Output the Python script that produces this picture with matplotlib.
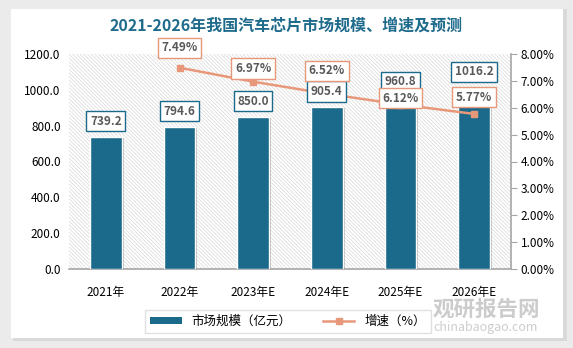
import matplotlib.pyplot as plt
from matplotlib.patches import Rectangle
from matplotlib.lines import Line2D
import matplotlib.patheffects as pe

plt.rcParams['font.family'] = ['Noto Sans CJK SC', 'DejaVu Sans']
plt.rcParams['hatch.linewidth'] = 0.45
plt.rcParams['hatch.color'] = '#d4d4d4'

# market size (100 million yuan) and growth rate (%)
years = ['2021年', '2022年', '2023年E', '2024年E', '2025年E', '2026年E']
market_size = [739.2, 794.6, 850.0, 905.4, 960.8, 1016.2]
growth_years = ['2022年', '2023年E', '2024年E', '2025年E', '2026年E']
growth = [7.49, 6.97, 6.52, 6.12, 5.77]

bar_color = '#1b6a8c'
line_color = '#e8987a'
text_gray = '#595959'

fig = plt.figure(figsize=(5.73, 3.48), dpi=100)
fig.patch.set_facecolor('#ebebeb')
# white card with a soft edge
fig.patches.append(Rectangle((13 / 573, 1 - 341 / 348), 554 / 573, 332 / 348,
                             transform=fig.transFigure, facecolor='#d9d9d9',
                             edgecolor='none', zorder=-2))
fig.patches.append(Rectangle((11 / 573, 1 - 338 / 348), 552 / 573, 329 / 348,
                             transform=fig.transFigure, facecolor='white',
                             edgecolor='none', zorder=-1))

ax = fig.add_axes([69 / 573, 79 / 348, 442 / 573, 215 / 348])
ax.set_facecolor('none')
ax.add_patch(Rectangle((0, 0), 1, 1, transform=ax.transAxes, facecolor='white',
                       edgecolor='#d4d4d4', hatch='\\' * 9, linewidth=0, zorder=0))

x = list(range(len(years)))
bars = ax.bar(x, market_size, width=0.43, color=bar_color, edgecolor='white',
              linewidth=1.0, zorder=3,
              path_effects=[pe.SimplePatchShadow(offset=(1.5, -1), alpha=0.25), pe.Normal()])
ax.set_xlim(-0.5, len(years) - 0.5)
ax.set_ylim(0, 1200)
ax.set_yticks(range(0, 1201, 200))
ax.set_yticklabels([f'{v:.1f}' for v in range(0, 1201, 200)])
ax.set_xticks(x)
ax.set_xticklabels(years)
ax.tick_params(axis='both', length=0, labelsize=8.5, colors='black', pad=6)
ax.tick_params(axis='x', pad=12)
for s in ['top', 'left', 'right']:
    ax.spines[s].set_visible(False)
ax.spines['bottom'].set_color('#a6a6a6')
ax.spines['bottom'].set_linewidth(1.2)

ax2 = ax.twinx()
gx = [years.index(g) for g in growth_years]
ax2.plot(gx, growth, color=line_color, linewidth=1.8, marker='s', markersize=5,
         zorder=5)
ax2.set_ylim(0, 8)
ax2.set_yticks(range(0, 9))
ax2.set_yticklabels([f'{v:.2f}%' for v in range(0, 9)])
ax2.tick_params(axis='y', length=4, direction='out', color='#a6a6a6', labelsize=8.5, pad=3)
for s in ['top', 'left', 'bottom']:
    ax2.spines[s].set_visible(False)
ax2.spines['right'].set_color('#a6a6a6')
ax2.spines['right'].set_linewidth(1.2)

# bar value labels sit above the growth line, growth labels above everything
for xi, v in zip(x, market_size):
    ax2.annotate(f'{v:.1f}', (xi, v), xycoords=ax.transData, xytext=(0, 11),
                 textcoords='offset points', ha='center', va='center', fontsize=8.5,
                 fontweight='bold', color=text_gray,
                 bbox=dict(boxstyle='square,pad=0.3', facecolor='white', edgecolor=bar_color, linewidth=1),
                 zorder=6)

label_offsets = [14.5, 9.5, 16.5, 4.5, 12]
for xi, v, dy in zip(gx, growth, label_offsets):
    ax2.annotate(f'{v:.2f}%', (xi, v), xytext=(0, dy), textcoords='offset points',
                 ha='center', va='center', fontsize=8.5, fontweight='bold', color=text_gray,
                 bbox=dict(boxstyle='square,pad=0.3', facecolor='white', edgecolor=line_color, linewidth=1),
                 zorder=7)

fig.text(0.5, 1 - 26 / 348, '2021-2026年我国汽车芯片市场规模、增速及预测', ha='center', va='center',
         fontsize=11.5, fontweight='bold', color='#1f6b8c')

# watermark
fig.text(486 / 573, 1 - 309 / 348, '观研报告网', ha='center', va='center', fontsize=15.5,
         fontweight='bold', color='#c4c4c4', alpha=0.85, zorder=1)
fig.text(486 / 573, 1 - 327 / 348, 'chinabaogao.com', ha='center', va='center', fontsize=9,
         color='#c4c4c4', alpha=0.85, zorder=1)

handles = [Rectangle((0, 0), 1, 1, facecolor=bar_color),
           Line2D([0], [0], color=line_color, linewidth=1.8, marker='s', markersize=5)]
leg = fig.legend(handles, ['市场规模（亿元）', '增速（%）'], loc='center',
                 bbox_to_anchor=(288 / 573, 1 - 321 / 348), ncol=2, frameon=True,
                 fontsize=9, fancybox=False, edgecolor='#d9d9d9', handlelength=2.5,
                 handleheight=0.5, columnspacing=2.5, borderpad=0.4)
leg.get_frame().set_linewidth(1)

fig.savefig('out.png', dpi=100, facecolor=fig.get_facecolor())
